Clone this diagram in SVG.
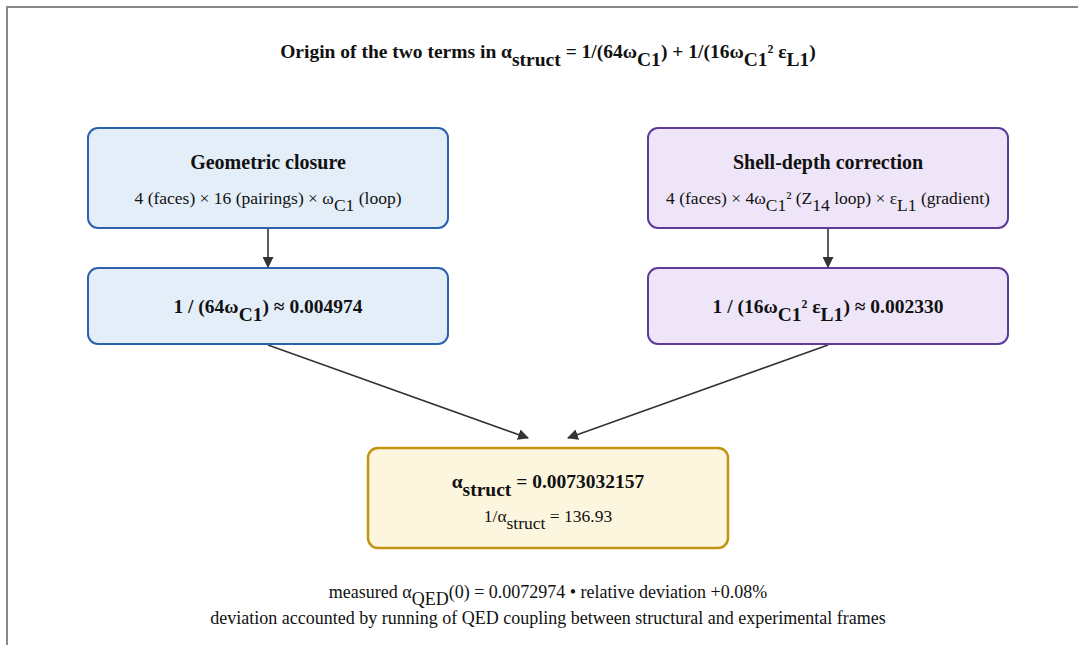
<svg xmlns="http://www.w3.org/2000/svg" width="1078" height="645" viewBox="0 0 1078 645">
<defs>
<marker id="ah" viewBox="0 0 10 10" refX="9" refY="5" markerWidth="11" markerHeight="11" markerUnits="userSpaceOnUse" orient="auto">
<path d="M0,0 L10,5 L0,10 z" fill="#333"/>
</marker>
<style>
text{font-family:"Liberation Serif","Times New Roman",serif;fill:#111;text-anchor:middle}
.t{font-size:19.5px;font-weight:bold}
.h{font-size:20px;font-weight:bold}
.v{font-size:19.5px;font-weight:bold}
.s{font-size:17.5px}
.f{font-size:18px}
.blue{fill:#e4eef9;stroke:#2c62ad;stroke-width:2}
.purp{fill:#efe5f8;stroke:#5f3b9c;stroke-width:2}
.gold{fill:#fdf6de;stroke:#c39412;stroke-width:2.5}
.c{stroke:#333;stroke-width:1.6;fill:none;marker-end:url(#ah)}
</style>
</defs>
<rect x="0" y="0" width="1078" height="645" fill="#fff"/>
<rect x="7" y="7" width="1100" height="660" fill="none" stroke="#888" stroke-width="2"/>
<text class="t" x="548" y="58">Origin of the two terms in α<tspan dy="8">struct</tspan><tspan dy="-8"> = 1/(64ω</tspan><tspan dy="8">C1</tspan><tspan dy="-8">) + 1/(16ω</tspan><tspan dy="8">C1</tspan><tspan dy="-8">² ε</tspan><tspan dy="8">L1</tspan><tspan dy="-8">)</tspan></text>
<g id="connectors">
<line class="c" x1="268" y1="229" x2="268" y2="267"/>
<line class="c" x1="828" y1="229" x2="828" y2="267"/>
<line class="c" x1="268" y1="345" x2="528" y2="438"/>
<line class="c" x1="828" y1="345" x2="568" y2="438"/>
</g>
<g id="geom">
<rect class="blue" x="88" y="128" width="360" height="100" rx="10"/>
<text class="h" x="268" y="169">Geometric closure</text>
<text class="s" x="268" y="204">4 (faces) × 16 (pairings) × ω<tspan dy="7">C1</tspan><tspan dy="-7"> (loop)</tspan></text>
</g>
<g id="geomval">
<rect class="blue" x="88" y="268" width="360" height="76" rx="10"/>
<text class="v" x="268" y="313">1 / (64ω<tspan dy="8">C1</tspan><tspan dy="-8">) ≈ 0.004974</tspan></text>
</g>
<g id="shell">
<rect class="purp" x="648" y="128" width="360" height="100" rx="10"/>
<text class="h" x="828" y="169">Shell-depth correction</text>
<text class="s" x="828" y="204">4 (faces) × 4ω<tspan dy="7">C1</tspan><tspan dy="-7">² (Z</tspan><tspan dy="7">14</tspan><tspan dy="-7"> loop) × ε</tspan><tspan dy="7">L1</tspan><tspan dy="-7"> (gradient)</tspan></text>
</g>
<g id="shellval">
<rect class="purp" x="648" y="268" width="360" height="76" rx="10"/>
<text class="v" x="828" y="313">1 / (16ω<tspan dy="8">C1</tspan><tspan dy="-8">² ε</tspan><tspan dy="8">L1</tspan><tspan dy="-8">) ≈ 0.002330</tspan></text>
</g>
<g id="result">
<rect class="gold" x="368" y="448" width="360" height="100" rx="10"/>
<text class="v" x="548" y="488">α<tspan dy="8">struct</tspan><tspan dy="-8"> = 0.0073032157</tspan></text>
<text class="s" x="548" y="522">1/α<tspan dy="7">struct</tspan><tspan dy="-7"> = 136.93</tspan></text>
</g>
<text class="f" x="548" y="598">measured α<tspan dy="7">QED</tspan><tspan dy="-7">(0) = 0.0072974 • relative deviation +0.08%</tspan></text>
<text class="f" x="548" y="624">deviation accounted by running of QED coupling between structural and experimental frames</text>
</svg>
